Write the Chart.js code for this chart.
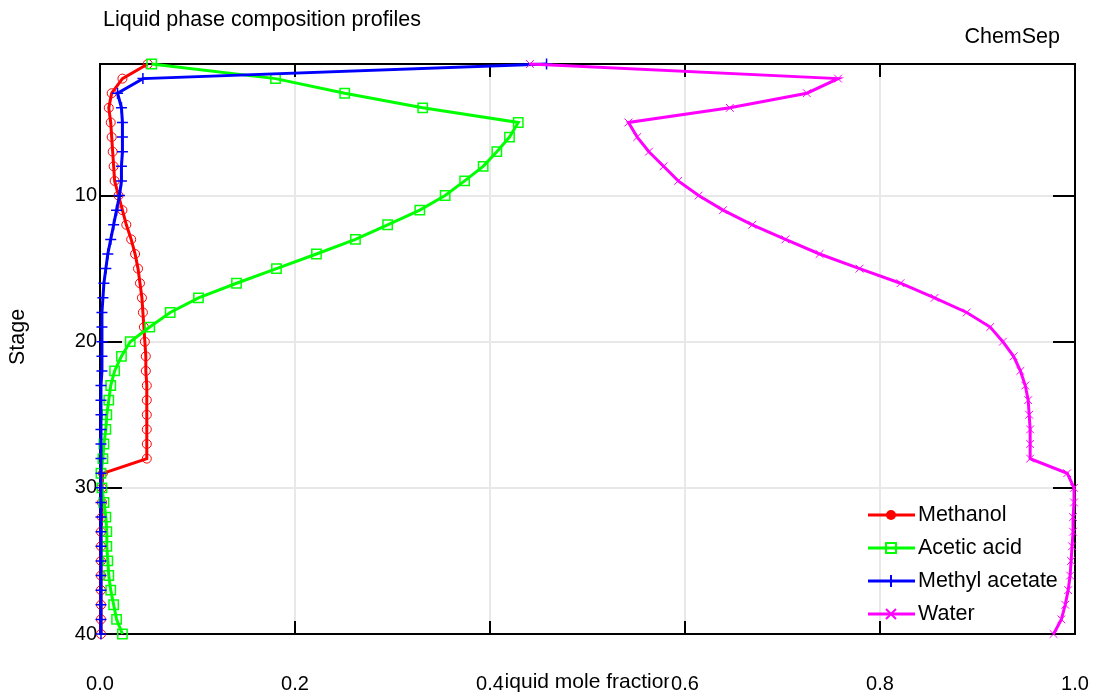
<!DOCTYPE html>
<html><head><meta charset="utf-8">
<script src="https://cdn.jsdelivr.net/npm/chart.js@4/dist/chart.umd.min.js"></script>
<style>html,body{margin:0;padding:0;background:#fff;}canvas{display:block;}</style>
</head><body>
<canvas id="c" width="1096" height="696"></canvas>
<script>
const stages = [1,2,3,4,5,6,7,8,9,10,11,12,13,14,15,16,17,18,19,20,21,22,23,24,25,26,27,28,29,30,31,32,33,34,35,36,37,38,39,40];
const methanol = [0.049,0.023,0.012,0.009,0.011,0.012,0.013,0.014,0.015,0.019,0.023,0.027,0.032,0.036,0.039,0.041,0.043,0.044,0.045,0.046,0.047,0.047,0.048,0.048,0.048,0.048,0.048,0.048,0.003,0.002,0.002,0.002,0.001,0.001,0.001,0.001,0.001,0.001,0.001,0.001];
const aceticAcid = [0.053,0.180,0.251,0.331,0.429,0.420,0.407,0.393,0.374,0.354,0.328,0.295,0.262,0.222,0.181,0.140,0.101,0.072,0.051,0.031,0.022,0.015,0.011,0.009,0.007,0.006,0.004,0.003,0.001,0.002,0.004,0.006,0.007,0.007,0.008,0.009,0.011,0.014,0.017,0.023];
const methylAcetate = [0.458,0.044,0.018,0.022,0.023,0.023,0.023,0.022,0.022,0.020,0.017,0.014,0.011,0.008,0.006,0.004,0.003,0.002,0.002,0.002,0.002,0.002,0.001,0.001,0.001,0.001,0.001,0.001,0.001,0.001,0.001,0.001,0.001,0.001,0.001,0.001,0.001,0.001,0.001,0.001];
const water = [0.441,0.757,0.725,0.646,0.542,0.551,0.563,0.578,0.593,0.614,0.639,0.669,0.703,0.738,0.779,0.821,0.856,0.889,0.913,0.926,0.937,0.944,0.949,0.952,0.953,0.954,0.954,0.954,0.992,0.999,0.999,0.998,0.998,0.997,0.996,0.995,0.993,0.990,0.986,0.978];
const xTicks = [0,0.2,0.4,0.6,0.8,1.0];
const yTicks = [10,20,30,40];
const seriesNames = ['Methanol','Acetic acid','Methyl acetate','Water'];
const chartTitle = 'Liquid phase composition profiles';
const brandText = 'ChemSep';
const xTitle = 'liquid mole fraction';
const yTitle = 'Stage';

const FONT = '"Liberation Sans", Arial, sans-serif';
const colors = ['#ff0000','#00ff00','#0000ff','#ff00ff'];
const styles = [
  {pointStyle:'circle', radius:4.5, bw:1},
  {pointStyle:'rect', radius:6.6, bw:1.5},
  {pointStyle:'cross', radius:5.5, bw:1.5},
  {pointStyle:'crossRot', radius:5.5, bw:1}
];
const seriesValues = [methanol, aceticAcid, methylAcetate, water];

const datasets = seriesValues.map((vals, k) => ({
  label: seriesNames[k],
  data: stages.map((s, i) => ({x: vals[i], y: s})),
  showLine: true,
  borderColor: colors[k],
  borderWidth: 3,
  pointStyle: styles[k].pointStyle,
  pointRadius: styles[k].radius,
  pointBorderWidth: styles[k].bw,
  pointBorderColor: colors[k],
  pointBackgroundColor: 'rgba(0,0,0,0)',
  tension: 0,
  clip: false,
  order: 4 - k
}));

function drawMarker(ctx, style, x, y, color) {
  ctx.save();
  ctx.strokeStyle = color; ctx.fillStyle = color; ctx.lineWidth = 2;
  ctx.beginPath();
  if (style === 'circle') { ctx.arc(x, y, 5, 0, Math.PI*2); ctx.fill(); }
  else if (style === 'rect') { ctx.rect(x-5, y-5, 10, 10); ctx.stroke(); }
  else if (style === 'cross') { ctx.moveTo(x-6,y); ctx.lineTo(x+6,y); ctx.moveTo(x,y-6); ctx.lineTo(x,y+6); ctx.stroke(); }
  else { ctx.moveTo(x-5,y-5); ctx.lineTo(x+5,y+5); ctx.moveTo(x+5,y-5); ctx.lineTo(x-5,y+5); ctx.stroke(); }
  ctx.restore();
}

const decor = {
  id: 'decor',
  beforeDraw(chart) {
    const ctx = chart.ctx; const a = chart.chartArea;
    ctx.save();
    ctx.fillStyle = '#000';
    ctx.font = '21px ' + FONT;
    ctx.textBaseline = 'middle';
    ctx.textAlign = 'center';
    ctx.fillText(xTitle, (a.left + a.right) / 2, 682);
    ctx.font = '21.5px ' + FONT;
    ctx.textAlign = 'left';
    ctx.fillText(chartTitle, 103, 20);
    ctx.textAlign = 'right';
    ctx.fillText(brandText, 1060, 37);
    ctx.translate(18, 337);
    ctx.rotate(-Math.PI/2);
    ctx.textAlign = 'center';
    ctx.fillText(yTitle, 0, 0);
    ctx.restore();
  },
  beforeDatasetsDraw(chart) {
    const ctx = chart.ctx; const a = chart.chartArea;
    const xs = chart.scales.x, ys = chart.scales.y;
    ctx.save();
    ctx.strokeStyle = '#000';
    ctx.lineWidth = 2;
    ctx.beginPath();
    xTicks.forEach(v => {
      if (v <= 0 || v >= 1) return;
      const px = Math.round(xs.getPixelForValue(v));
      ctx.moveTo(px, a.top); ctx.lineTo(px, a.top + 13);
      ctx.moveTo(px, a.bottom); ctx.lineTo(px, a.bottom - 13);
    });
    yTicks.forEach(v => {
      if (v >= 40) return;
      const py = Math.round(ys.getPixelForValue(v));
      ctx.moveTo(a.left, py); ctx.lineTo(a.left + 22, py);
      ctx.moveTo(a.right, py); ctx.lineTo(a.right - 22, py);
    });
    ctx.stroke();
    ctx.strokeRect(a.left, a.top, a.right - a.left, a.bottom - a.top);
    ctx.restore();
  },
  afterDatasetsDraw(chart) {
    const ctx = chart.ctx;
    ctx.save();
    ctx.font = '21.5px ' + FONT;
    ctx.textBaseline = 'middle';
    ctx.textAlign = 'left';
    seriesNames.forEach((name, k) => {
      const y = 515 + k * 33;
      ctx.strokeStyle = colors[k]; ctx.lineWidth = 3;
      ctx.beginPath(); ctx.moveTo(868, y); ctx.lineTo(915, y); ctx.stroke();
      drawMarker(ctx, styles[k].pointStyle, 891, y, colors[k]);
      ctx.fillStyle = '#000';
      ctx.fillText(name, 918, y);
    });
    ctx.restore();
  }
};

new Chart(document.getElementById('c'), {
  type: 'scatter',
  data: { datasets },
  options: {
    responsive: false,
    animation: false,
    events: [],
    layout: { padding: { top: 64, right: 21, left: 0, bottom: 0 } },
    plugins: { legend: { display: false }, tooltip: { enabled: false }, title: { display: false } },
    scales: {
      x: {
        type: 'linear', position: 'bottom', min: 0, max: 1,
        afterBuildTicks: s => { s.ticks = xTicks.map(v => ({ value: v })); },
        afterFit: s => { s.height = 62; s.paddingLeft = 0; s.paddingRight = 0; },
        grid: { color: '#e8e8e8', lineWidth: 2, drawTicks: false },
        border: { display: false },
        ticks: {
          callback: v => Number(v).toFixed(1),
          font: { family: FONT, size: 20 }, color: '#000', padding: 38,
          maxRotation: 0, autoSkip: false,
          showLabelBackdrop: true, backdropColor: '#fff', backdropPadding: 2
        }
      },
      y: {
        type: 'linear', position: 'left', min: 1, max: 40, reverse: true,
        afterBuildTicks: s => { s.ticks = yTicks.map(v => ({ value: v })); },
        afterFit: s => { s.width = 100; s.paddingTop = 0; s.paddingBottom = 0; },
        grid: { color: '#e8e8e8', lineWidth: 2, drawTicks: false },
        border: { display: false },
        ticks: { font: { family: FONT, size: 20 }, color: '#000', padding: 3, autoSkip: false }
      }
    }
  },
  plugins: [decor]
});
</script>
</body></html>
